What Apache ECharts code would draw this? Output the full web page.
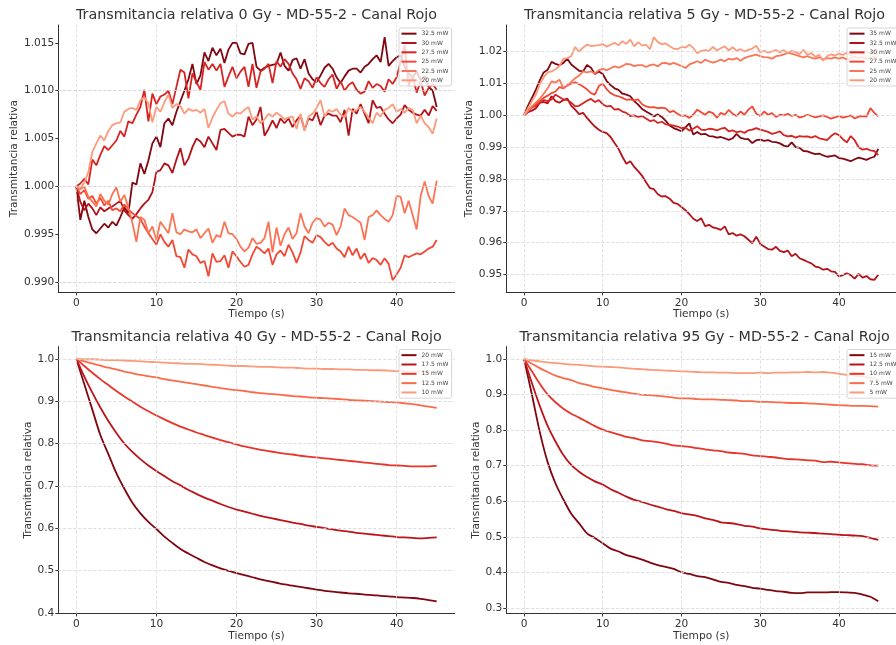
<!DOCTYPE html>
<html><head><meta charset="utf-8">
<script src="https://cdn.jsdelivr.net/npm/echarts@6/dist/echarts.min.js"></script>
<style>html,body{margin:0;padding:0;background:#fff}#c{width:896px;height:645px}</style>
</head><body><div id="c"></div>
<script>
// ---------- sample times ----------
const timeNoisy = [0,0.5,1,1.5,2,2.5,3,3.5,4,4.5,5,5.5,6,6.5,7,7.5,8,8.5,9,9.5,
  10,10.5,11,11.5,12,12.5,13,13.5,14,14.5,15,15.5,16,16.5,17,17.5,18,18.5,19,19.5,
  20,20.5,21,21.5,22,22.5,23,23.5,24,24.5,25,25.5,26,26.5,27,27.5,28,28.5,29,29.5,
  30,30.5,31,31.5,32,32.5,33,33.5,34,34.5,35,35.5,36,36.5,37,37.5,38,38.5,39,39.5,
  40,40.5,41,41.5,42,42.5,43,43.5,44,44.5,45];
const timeSmooth = [0,1,2,3,4,5,6,7,8,9,10,11,12,13,14,15,16,17,18,19,20,21,22,23,24,25,26,27,28,29,
  30,31,32,33,34,35,36,37,38,39,40,41,42,43,44,45];

// ---------- tick labels ----------
const xTicks = [0,10,20,30,40];
const yTicks0 = [0.990,0.995,1.000,1.005,1.010,1.015];
const yTicks1 = [0.95,0.96,0.97,0.98,0.99,1.00,1.01,1.02];
const yTicks2 = [0.4,0.5,0.6,0.7,0.8,0.9,1.0];
const yTicks3 = [0.3,0.4,0.5,0.6,0.7,0.8,0.9,1.0];

const titles = [
  'Transmitancia relativa 0 Gy - MD-55-2 - Canal Rojo',
  'Transmitancia relativa 5 Gy - MD-55-2 - Canal Rojo',
  'Transmitancia relativa 40 Gy - MD-55-2 - Canal Rojo',
  'Transmitancia relativa 95 Gy - MD-55-2 - Canal Rojo'
];
const xName = 'Tiempo (s)';
const yName = 'Transmitancia relativa';

// ---------- 0 Gy ----------
const names0 = ['32.5 mW','30 mW','27.5 mW','25 mW','22.5 mW','20 mW'];
const p0_325 = [1.0000,0.9965,0.9985,0.9968,0.9955,0.9951,0.9956,0.9961,0.9957,0.9963,
  0.9959,0.9968,0.9978,0.9972,1.0004,1.0002,1.0024,1.0013,1.0027,1.0045,
  1.0052,1.0041,1.0066,1.0071,1.0064,1.0078,1.0089,1.0100,1.0112,1.0128,
  1.0107,1.0116,1.0140,1.0131,1.0145,1.0137,1.0144,1.0129,1.0143,1.0150,
  1.0150,1.0139,1.0138,1.0149,1.0150,1.0125,1.0121,1.0124,1.0126,1.0127,
  1.0128,1.0140,1.0126,1.0121,1.0132,1.0134,1.0123,1.0133,1.0118,1.0112,
  1.0109,1.0116,1.0124,1.0128,1.0123,1.0114,1.0108,1.0115,1.0121,1.0123,
  1.0123,1.0119,1.0125,1.0128,1.0133,1.0137,1.0130,1.0156,1.0126,1.0131,
  1.0135,1.0137,1.0125,1.0118,1.0114,1.0120,1.0111,1.0115,1.0104,1.0100,
  1.0083];
const p0_30 = [1.0000,0.9984,0.9975,0.9982,0.9977,0.9970,0.9978,0.9974,0.9977,0.9979,
  0.9982,0.9985,0.9975,0.9970,0.9966,0.9971,0.9977,0.9982,0.9986,0.9994,
  1.0015,1.0017,1.0024,1.0022,1.0014,1.0028,1.0040,1.0022,1.0029,1.0041,
  1.0050,1.0047,1.0041,1.0052,1.0045,1.0038,1.0059,1.0060,1.0056,1.0052,
  1.0054,1.0054,1.0052,1.0073,1.0064,1.0070,1.0083,1.0053,1.0060,1.0069,
  1.0061,1.0071,1.0066,1.0071,1.0062,1.0069,1.0074,1.0059,1.0071,1.0069,
  1.0078,1.0064,1.0074,1.0076,1.0074,1.0074,1.0067,1.0080,1.0053,1.0081,
  1.0076,1.0086,1.0076,1.0066,1.0090,1.0082,1.0083,1.0076,1.0070,1.0066,
  1.0071,1.0075,1.0085,1.0080,1.0077,1.0075,1.0074,1.0080,1.0074,1.0084,
  1.0079];
const p0_275 = [1.0000,1.0003,1.0008,1.0002,1.0028,1.0022,1.0033,1.0042,1.0038,1.0043,
  1.0048,1.0058,1.0052,1.0068,1.0066,1.0075,1.0083,1.0101,1.0068,1.0097,
  1.0086,1.0094,1.0096,1.0100,1.0086,1.0104,1.0122,1.0119,1.0092,1.0118,
  1.0109,1.0101,1.0130,1.0122,1.0128,1.0121,1.0128,1.0104,1.0115,1.0125,
  1.0113,1.0120,1.0125,1.0104,1.0128,1.0103,1.0120,1.0123,1.0128,1.0108,
  1.0131,1.0125,1.0133,1.0128,1.0118,1.0112,1.0102,1.0113,1.0110,1.0103,
  1.0114,1.0108,1.0104,1.0112,1.0117,1.0102,1.0110,1.0100,1.0106,1.0109,
  1.0101,1.0097,1.0099,1.0110,1.0103,1.0107,1.0105,1.0099,1.0112,1.0107,
  1.0114,1.0130,1.0148,1.0105,1.0115,1.0098,1.0110,1.0095,1.0103,1.0107,
  1.0101];
const p0_25 = [1.0000,0.9992,0.9996,0.9987,0.9990,0.9982,0.9988,0.9980,0.9985,0.9975,
  0.9977,0.9974,0.9981,0.9976,0.9972,0.9969,0.9966,0.9958,0.9951,0.9945,
  0.9939,0.9950,0.9942,0.9937,0.9944,0.9927,0.9926,0.9915,0.9934,0.9929,
  0.9927,0.9920,0.9922,0.9906,0.9930,0.9921,0.9922,0.9928,0.9915,0.9932,
  0.9927,0.9921,0.9916,0.9918,0.9929,0.9937,0.9934,0.9930,0.9935,0.9918,
  0.9929,0.9933,0.9927,0.9939,0.9931,0.9920,0.9931,0.9948,0.9944,0.9941,
  0.9949,0.9947,0.9942,0.9938,0.9941,0.9935,0.9932,0.9926,0.9937,0.9928,
  0.9935,0.9924,0.9930,0.9920,0.9925,0.9923,0.9918,0.9925,0.9919,0.9902,
  0.9908,0.9915,0.9928,0.9926,0.9928,0.9930,0.9929,0.9932,0.9935,0.9937,
  0.9944];
const p0_225 = [1.0000,0.9997,1.0000,0.9989,0.9984,0.9979,0.9992,0.9985,0.9981,0.9992,
  0.9999,0.9984,0.9991,0.9978,0.9962,0.9942,0.9968,0.9965,0.9951,0.9958,
  0.9944,0.9963,0.9957,0.9951,0.9972,0.9952,0.9950,0.9955,0.9953,0.9952,
  0.9955,0.9946,0.9951,0.9956,0.9941,0.9949,0.9947,0.9963,0.9951,0.9950,
  0.9945,0.9937,0.9932,0.9936,0.9946,0.9940,0.9941,0.9946,0.9963,0.9931,
  0.9957,0.9938,0.9950,0.9957,0.9945,0.9951,0.9972,0.9958,0.9951,0.9962,
  0.9967,0.9965,0.9958,0.9962,0.9960,0.9949,0.9958,0.9977,0.9970,0.9968,
  0.9965,0.9962,0.9944,0.9968,0.9970,0.9975,0.9970,0.9966,0.9963,0.9970,
  0.9990,0.9989,0.9972,0.9985,0.9970,0.9955,0.9990,1.0005,0.9990,0.9982,
  1.0006];
const p0_20 = [1.0000,0.9998,1.0004,1.0015,1.0036,1.0045,1.0053,1.0048,1.0058,1.0064,
  1.0066,1.0067,1.0078,1.0081,1.0082,1.0080,1.0090,1.0093,1.0087,1.0067,
  1.0083,1.0078,1.0088,1.0096,1.0082,1.0086,1.0084,1.0076,1.0081,1.0079,
  1.0080,1.0077,1.0081,1.0061,1.0072,1.0080,1.0087,1.0089,1.0076,1.0073,
  1.0077,1.0076,1.0080,1.0083,1.0070,1.0073,1.0066,1.0070,1.0076,1.0073,
  1.0077,1.0074,1.0070,1.0072,1.0073,1.0060,1.0076,1.0058,1.0073,1.0076,
  1.0082,1.0090,1.0073,1.0080,1.0078,1.0081,1.0075,1.0072,1.0082,1.0078,
  1.0080,1.0083,1.0078,1.0072,1.0066,1.0077,1.0073,1.0080,1.0082,1.0086,
  1.0078,1.0081,1.0077,1.0082,1.0080,1.0066,1.0074,1.0066,1.0062,1.0055,
  1.0071];

// ---------- 5 Gy ----------
const names1 = ['35 mW','32.5 mW','30 mW','27.5 mW','25 mW','20 mW'];
const p1_35 = [1.0000,1.0030,1.0055,1.0080,1.0110,1.0135,1.0143,1.0168,1.0162,1.0158,
  1.0165,1.0178,1.0160,1.0150,1.0140,1.0138,1.0158,1.0150,1.0130,1.0138,
  1.0130,1.0108,1.0095,1.0085,1.0080,1.0068,1.0065,1.0060,1.0045,1.0034,
  1.0020,1.0012,1.0005,0.9997,1.0003,0.9995,0.9983,0.9968,0.9960,0.9955,
  0.9950,0.9962,0.9975,0.9940,0.9948,0.9940,0.9942,0.9935,0.9934,0.9930,
  0.9932,0.9928,0.9923,0.9928,0.9942,0.9929,0.9926,0.9925,0.9913,0.9922,
  0.9924,0.9920,0.9922,0.9917,0.9916,0.9912,0.9905,0.9902,0.9915,0.9900,
  0.9898,0.9888,0.9887,0.9882,0.9878,0.9880,0.9874,0.9870,0.9872,0.9874,
  0.9866,0.9864,0.9860,0.9856,0.9862,0.9867,0.9864,0.9860,0.9866,0.9870,
  0.9895];
const p1_325 = [1.0000,1.0010,1.0015,1.0022,1.0040,1.0042,1.0038,1.0060,1.0045,1.0040,
  1.0048,1.0053,1.0030,1.0018,1.0004,1.0008,0.9992,0.9978,0.9965,0.9955,
  0.9948,0.9944,0.9932,0.9913,0.9895,0.9870,0.9848,0.9856,0.9838,0.9825,
  0.9810,0.9790,0.9771,0.9768,0.9752,0.9745,0.9746,0.9738,0.9725,0.9722,
  0.9712,0.9702,0.9690,0.9675,0.9668,0.9677,0.9652,0.9656,0.9648,0.9645,
  0.9640,0.9651,0.9626,0.9630,0.9622,0.9626,0.9620,0.9609,0.9598,0.9619,
  0.9596,0.9588,0.9580,0.9578,0.9587,0.9574,0.9570,0.9575,0.9557,0.9565,
  0.9551,0.9546,0.9540,0.9535,0.9525,0.9522,0.9515,0.9518,0.9510,0.9508,
  0.9494,0.9498,0.9504,0.9498,0.9487,0.9502,0.9490,0.9495,0.9485,0.9483,
  0.9499];
const p1_30 = [1.0000,1.0018,1.0025,1.0030,1.0040,1.0048,1.0045,1.0050,1.0065,1.0058,
  1.0050,1.0048,1.0040,1.0028,1.0030,1.0038,1.0046,1.0052,1.0042,1.0048,
  1.0035,1.0028,1.0030,1.0018,1.0020,1.0012,1.0008,0.9998,1.0000,0.9995,
  0.9998,0.9990,0.9982,0.9985,0.9976,0.9980,0.9972,0.9970,0.9968,0.9965,
  0.9960,0.9962,0.9952,0.9958,0.9966,0.9955,0.9954,0.9958,0.9957,0.9953,
  0.9958,0.9961,0.9950,0.9953,0.9947,0.9950,0.9945,0.9953,0.9955,0.9960,
  0.9955,0.9952,0.9948,0.9942,0.9945,0.9950,0.9938,0.9934,0.9936,0.9930,
  0.9935,0.9933,0.9934,0.9930,0.9935,0.9928,0.9925,0.9922,0.9935,0.9944,
  0.9938,0.9925,0.9915,0.9935,0.9922,0.9900,0.9892,0.9895,0.9890,0.9888,
  0.9875];
const p1_275 = [1.0000,1.0012,1.0025,1.0035,1.0045,1.0055,1.0062,1.0070,1.0075,1.0089,
  1.0085,1.0094,1.0100,1.0104,1.0098,1.0091,1.0082,1.0070,1.0065,1.0092,
  1.0100,1.0082,1.0070,1.0063,1.0060,1.0055,1.0049,1.0050,1.0047,1.0050,
  1.0035,1.0028,1.0025,1.0026,1.0023,1.0024,1.0022,1.0010,1.0014,1.0005,
  0.9998,1.0000,0.9992,1.0002,1.0018,1.0010,1.0002,1.0012,1.0007,0.9993,
  1.0008,1.0002,1.0017,1.0005,0.9998,1.0012,1.0002,1.0018,1.0028,1.0005,
  0.9998,1.0012,1.0002,1.0007,0.9995,1.0002,1.0000,1.0005,0.9998,1.0002,
  0.9993,0.9997,1.0002,0.9998,0.9994,0.9997,1.0000,0.9995,0.9990,0.9994,
  0.9998,0.9993,0.9996,1.0000,0.9990,0.9996,0.9998,0.9996,1.0023,1.0008,
  0.9997];
const p1_25 = [1.0000,1.0015,1.0028,1.0040,1.0052,1.0068,1.0085,1.0107,1.0103,1.0112,
  1.0085,1.0095,1.0105,1.0117,1.0125,1.0138,1.0135,1.0138,1.0132,1.0142,
  1.0146,1.0142,1.0148,1.0154,1.0150,1.0155,1.0162,1.0160,1.0155,1.0158,
  1.0158,1.0152,1.0158,1.0160,1.0154,1.0164,1.0165,1.0160,1.0165,1.0160,
  1.0155,1.0149,1.0160,1.0165,1.0170,1.0165,1.0175,1.0170,1.0166,1.0170,
  1.0175,1.0170,1.0178,1.0175,1.0180,1.0172,1.0180,1.0185,1.0188,1.0191,
  1.0186,1.0183,1.0182,1.0178,1.0186,1.0188,1.0192,1.0196,1.0194,1.0190,
  1.0186,1.0182,1.0186,1.0181,1.0178,1.0182,1.0176,1.0180,1.0178,1.0182,
  1.0178,1.0182,1.0176,1.0180,1.0185,1.0180,1.0183,1.0178,1.0180,1.0184,
  1.0178];
const p1_20 = [1.0000,1.0022,1.0045,1.0065,1.0098,1.0120,1.0135,1.0138,1.0145,1.0155,
  1.0178,1.0180,1.0186,1.0215,1.0200,1.0213,1.0222,1.0218,1.0219,1.0221,
  1.0224,1.0216,1.0222,1.0228,1.0220,1.0233,1.0225,1.0238,1.0217,1.0230,
  1.0219,1.0222,1.0208,1.0246,1.0230,1.0224,1.0226,1.0217,1.0210,1.0208,
  1.0215,1.0213,1.0222,1.0212,1.0195,1.0203,1.0205,1.0203,1.0215,1.0204,
  1.0211,1.0217,1.0204,1.0214,1.0203,1.0208,1.0201,1.0206,1.0210,1.0219,
  1.0198,1.0203,1.0197,1.0201,1.0205,1.0198,1.0205,1.0195,1.0203,1.0199,
  1.0193,1.0206,1.0190,1.0196,1.0184,1.0190,1.0172,1.0186,1.0192,1.0188,
  1.0194,1.0190,1.0197,1.0188,1.0198,1.0200,1.0193,1.0201,1.0196,1.0205,
  1.0198];

// ---------- 40 Gy ----------
const names2 = ['20 mW','17.5 mW','15 mW','12.5 mW','10 mW'];
const p2_20 = [1.0,0.94,0.88,0.82,0.775,0.73,0.693,0.66,0.635,0.615,
  0.598,0.58,0.565,0.551,0.54,0.53,0.52,0.512,0.505,0.499,
  0.494,0.489,0.484,0.479,0.475,0.471,0.467,0.464,0.461,0.458,
  0.455,0.452,0.45,0.448,0.446,0.445,0.443,0.442,0.44,0.439,
  0.437,0.436,0.435,0.433,0.43,0.427];
const p2_175 = [1.0,0.958,0.92,0.885,0.853,0.825,0.80,0.78,0.763,0.748,
  0.735,0.723,0.711,0.701,0.69,0.681,0.672,0.665,0.657,0.65,
  0.644,0.639,0.634,0.629,0.625,0.621,0.617,0.613,0.61,0.606,
  0.603,0.6,0.597,0.594,0.592,0.589,0.587,0.585,0.583,0.581,
  0.579,0.578,0.577,0.576,0.577,0.578];
const p2_15 = [1.0,0.983,0.967,0.952,0.938,0.924,0.911,0.899,0.887,0.876,
  0.866,0.857,0.848,0.84,0.833,0.826,0.82,0.814,0.808,0.803,
  0.798,0.793,0.789,0.785,0.782,0.779,0.776,0.774,0.771,0.769,
  0.767,0.765,0.763,0.761,0.759,0.757,0.755,0.753,0.751,0.749,
  0.748,0.747,0.746,0.746,0.746,0.747];
const p2_125 = [1.0,0.994,0.989,0.984,0.979,0.975,0.97,0.966,0.962,0.959,
  0.956,0.952,0.949,0.946,0.943,0.94,0.937,0.934,0.931,0.928,
  0.926,0.924,0.921,0.919,0.917,0.916,0.914,0.912,0.911,0.909,
  0.908,0.907,0.906,0.905,0.903,0.902,0.901,0.9,0.899,0.898,
  0.897,0.895,0.893,0.89,0.887,0.884];
const p2_10 = [1.0,0.999,0.999,0.998,0.997,0.997,0.996,0.995,0.994,0.993,
  0.992,0.991,0.99,0.989,0.988,0.988,0.987,0.986,0.985,0.984,
  0.983,0.983,0.982,0.981,0.981,0.98,0.979,0.979,0.978,0.977,
  0.977,0.976,0.976,0.975,0.975,0.974,0.974,0.973,0.973,0.972,
  0.971,0.971,0.97,0.97,0.969,0.969];

// ---------- 95 Gy ----------
const names3 = ['15 mW','12.5 mW','10 mW','7.5 mW','5 mW'];
const p3_15 = [1.0,0.90,0.795,0.71,0.65,0.605,0.565,0.538,0.51,0.497,
  0.482,0.467,0.459,0.449,0.443,0.436,0.428,0.421,0.416,0.41,
  0.401,0.396,0.39,0.387,0.381,0.374,0.371,0.365,0.362,0.357,
  0.355,0.351,0.348,0.346,0.343,0.342,0.344,0.344,0.344,0.345,
  0.345,0.344,0.343,0.338,0.332,0.319];
const p3_125 = [1.0,0.932,0.868,0.812,0.768,0.73,0.702,0.683,0.668,0.656,
  0.647,0.634,0.624,0.613,0.604,0.598,0.591,0.585,0.578,0.573,
  0.567,0.563,0.559,0.552,0.548,0.541,0.539,0.536,0.531,0.529,
  0.524,0.521,0.519,0.516,0.515,0.513,0.512,0.511,0.509,0.508,
  0.506,0.505,0.504,0.502,0.497,0.492];
const p3_10 = [1.0,0.965,0.93,0.9,0.878,0.86,0.846,0.835,0.823,0.811,
  0.801,0.794,0.788,0.781,0.777,0.771,0.769,0.766,0.762,0.757,
  0.755,0.753,0.749,0.746,0.743,0.741,0.737,0.735,0.733,0.729,
  0.727,0.725,0.723,0.72,0.718,0.717,0.715,0.714,0.71,0.711,
  0.709,0.707,0.705,0.704,0.701,0.7];
const p3_75 = [1.0,0.986,0.974,0.963,0.953,0.946,0.94,0.932,0.927,0.921,
  0.917,0.913,0.909,0.906,0.902,0.899,0.898,0.896,0.894,0.891,
  0.889,0.889,0.887,0.886,0.886,0.885,0.884,0.883,0.881,0.881,
  0.879,0.879,0.878,0.877,0.876,0.876,0.875,0.874,0.873,0.871,
  0.87,0.869,0.868,0.868,0.867,0.866];
const p3_5 = [1.0,0.996,0.993,0.99,0.988,0.986,0.984,0.983,0.981,0.979,
  0.978,0.977,0.976,0.974,0.972,0.971,0.969,0.968,0.967,0.966,
  0.965,0.964,0.963,0.962,0.962,0.961,0.961,0.96,0.96,0.96,
  0.961,0.96,0.961,0.961,0.962,0.962,0.963,0.962,0.963,0.961,
  0.958,0.955,0.953,0.95,0.946,0.942];

// ---------- styling / layout ----------
const FONT = 'DejaVu Sans';
const colors6 = ['#800610','#b31218','#d72322','#f24834','#fb7454','#fc9a7b'];
const colors5 = ['#800610','#bc141a','#e83429','#fb6a4a','#fc9a7b'];

const panels = [
  {title: titles[0], time: timeNoisy, names: names0, values: [p0_325,p0_30,p0_275,p0_25,p0_225,p0_20],
   colors: colors6, yMin: 0.98893, yMax: 1.01687, yTicks: yTicks0, dec: 3, smooth: false,
   grid: {left: 58.3, top: 25, width: 396.4, height: 267.3}, titleX: 256.5, titleTop: 8,
   legendLeft: 399, legendTop: 28, yNameGap: 34},
  {title: titles[1], time: timeNoisy, names: names1, values: [p1_35,p1_325,p1_30,p1_275,p1_25,p1_20],
   colors: colors6, yMin: 0.9444, yMax: 1.0284, yTicks: yTicks1, dec: 2, smooth: false,
   grid: {left: 506.3, top: 25, width: 396.4, height: 267.3}, titleX: 704.5, titleTop: 8,
   legendLeft: 847, legendTop: 28, yNameGap: 28},
  {title: titles[2], time: timeSmooth, names: names2, values: [p2_20,p2_175,p2_15,p2_125,p2_10],
   colors: colors5, yMin: 0.39835, yMax: 1.02865, yTicks: yTicks2, dec: 1, smooth: 0.3,
   grid: {left: 58.3, top: 346.7, width: 396.4, height: 266.8}, titleX: 256.5, titleTop: 330,
   legendLeft: 399, legendTop: 349.5, yNameGap: 22.5},
  {title: titles[3], time: timeSmooth, names: names3, values: [p3_15,p3_125,p3_10,p3_75,p3_5],
   colors: colors5, yMin: 0.28495, yMax: 1.03405, yTicks: yTicks3, dec: 1, smooth: 0.3,
   grid: {left: 506.3, top: 346.7, width: 396.4, height: 266.8}, titleX: 704.5, titleTop: 330,
   legendLeft: 847, legendTop: 349.5, yNameGap: 22.5}
];

const labelStyle = {fontSize: 10.6, color: '#333', fontFamily: FONT};
const series = [];
panels.forEach((p, i) => {
  // grid lines at tick positions (skip ones lying on the bottom spine)
  const yGrid = p.yTicks.filter(v => (v - p.yMin) / (p.yMax - p.yMin) > 0.01);
  series.push({
    type: 'line', xAxisIndex: i, yAxisIndex: i, data: [], silent: true, z: 1,
    markLine: {
      silent: true, symbol: ['none', 'none'], label: {show: false}, animation: false,
      lineStyle: {color: '#d6d6d6', type: [3, 2], width: 0.8},
      emphasis: {disabled: true},
      data: xTicks.map(v => ({xAxis: v})).concat(yGrid.map(v => ({yAxis: v})))
    }
  });
  p.names.forEach((n, k) => {
    series.push({
      type: 'line', name: i + '|' + n, xAxisIndex: i, yAxisIndex: i, z: 2,
      data: p.time.map((t, j) => [t, p.values[k][j]]),
      symbol: 'none', showSymbol: false, smooth: p.smooth,
      lineStyle: {color: p.colors[k], width: 1.8},
      itemStyle: {color: p.colors[k]},
      emphasis: {disabled: true}, animation: false
    });
  });
});

const option = {
  animation: false,
  backgroundColor: '#fff',
  textStyle: {fontFamily: FONT},
  title: panels.map(p => ({
    text: p.title, left: p.titleX, top: p.titleTop, textAlign: 'center', padding: 0,
    textStyle: {fontSize: 14.3, fontWeight: 'normal', color: '#333', fontFamily: FONT}
  })),
  grid: panels.map(p => Object.assign({containLabel: false}, p.grid)),
  xAxis: panels.map((p, i) => ({
    type: 'value', gridIndex: i, min: -2.25, max: 47.25, z: 3,
    name: xName, nameLocation: 'middle', nameGap: 16,
    nameTextStyle: Object.assign({verticalAlign: 'top'}, labelStyle),
    axisLine: {show: true, onZero: false, lineStyle: {color: '#333', width: 1}},
    axisTick: {show: true, length: 3, customValues: xTicks, lineStyle: {color: '#333'}},
    axisLabel: Object.assign({customValues: xTicks, margin: 5}, labelStyle),
    splitLine: {show: false}
  })),
  yAxis: panels.map((p, i) => ({
    type: 'value', gridIndex: i, min: p.yMin, max: p.yMax, z: 3,
    name: yName, nameLocation: 'middle', nameGap: p.yNameGap,
    nameTextStyle: labelStyle,
    axisLine: {show: true, onZero: false, lineStyle: {color: '#333', width: 1}},
    axisTick: {show: true, length: 3, customValues: p.yTicks, lineStyle: {color: '#333'}},
    axisLabel: Object.assign({customValues: p.yTicks, margin: 4, formatter: v => v.toFixed(p.dec)}, labelStyle),
    splitLine: {show: false}
  })),
  legend: panels.map((p, i) => ({
    orient: 'vertical', left: p.legendLeft, top: p.legendTop,
    icon: 'rect', itemWidth: 15, itemHeight: 2, itemGap: 0,
    padding: [1, 3, 1, 2.5],
    backgroundColor: 'rgba(255,255,255,0.8)', borderColor: '#cccccc', borderWidth: 0.8, borderRadius: 2,
    textStyle: {fontSize: 6, color: '#444', lineHeight: 9.33, fontFamily: FONT},
    data: p.names.map(n => i + '|' + n),
    formatter: n => n.split('|')[1],
    selectedMode: false, z: 10
  })),
  series: series
};

const chart = echarts.init(document.getElementById('c'), null, {renderer: 'canvas'});
chart.setOption(option);
</script>
</body></html>
